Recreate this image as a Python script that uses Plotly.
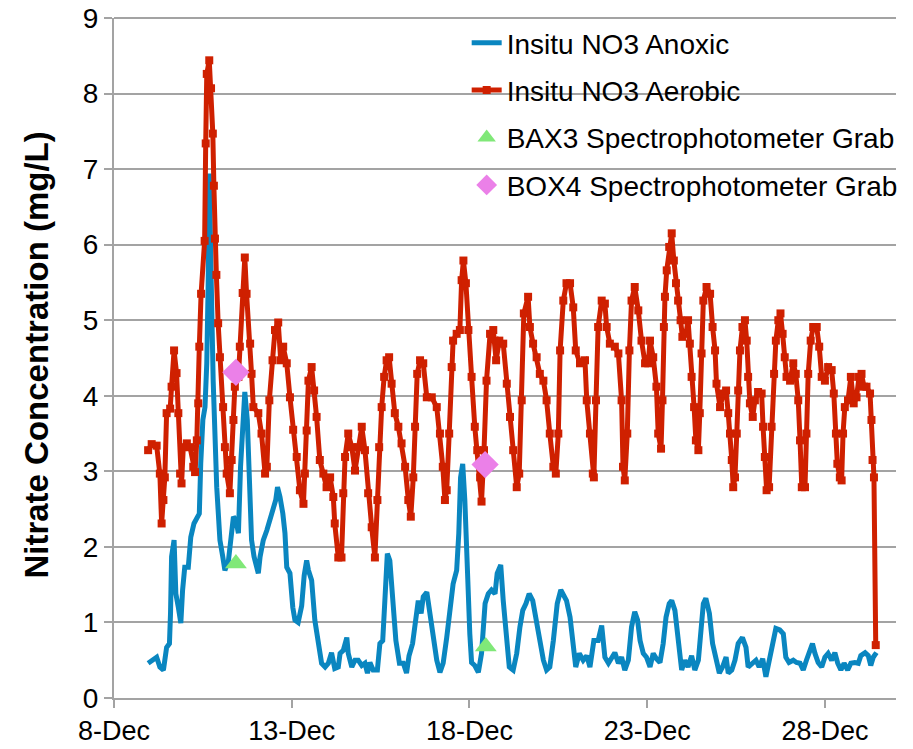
import pandas as pd
import plotly.graph_objects as go

# Days since 8-Dec (fractional) and nitrate concentrations (mg/L)
aerobic_day = [0.96, 1.06, 1.20, 1.29, 1.34, 1.39, 1.43, 1.48, 1.58, 1.62, 1.69, 1.76, 1.81, 1.86, 1.90, 1.95,
               2.05, 2.14, 2.23, 2.28, 2.33, 2.37, 2.40, 2.45, 2.55, 2.58, 2.61, 2.68, 2.73, 2.78, 2.81, 2.84,
               2.88, 2.93, 2.98, 3.07, 3.12, 3.17, 3.26, 3.31, 3.36, 3.40, 3.50, 3.54, 3.62, 3.68, 3.73, 3.83,
               3.87, 3.92, 4.06, 4.15, 4.25, 4.30, 4.37, 4.46, 4.53, 4.62, 4.69, 4.76, 4.86, 4.95, 5.04, 5.14,
               5.23, 5.33, 5.37, 5.42, 5.47, 5.56, 5.63, 5.70, 5.79, 5.89, 5.98, 6.08, 6.17, 6.21, 6.31, 6.40,
               6.45, 6.50, 6.59, 6.69, 6.78, 6.87, 6.97, 7.06, 7.15, 7.25, 7.34, 7.41, 7.46, 7.53, 7.60, 7.67,
               7.74, 7.81, 7.90, 8.00, 8.09, 8.19, 8.28, 8.35, 8.42, 8.47, 8.53, 8.61, 8.70, 8.80, 8.94, 9.08,
               9.17, 9.25, 9.31, 9.36, 9.43, 9.50, 9.54, 9.64, 9.73, 9.78, 9.83, 9.90, 9.97, 10.06, 10.15, 10.22,
               10.30, 10.34, 10.41, 10.48, 10.58, 10.67, 10.75, 10.84, 10.95, 11.05, 11.14, 11.23, 11.33, 11.40,
               11.47, 11.53, 11.65, 11.70, 11.79, 11.89, 11.98, 12.08, 12.17, 12.26, 12.36, 12.43, 12.50, 12.55,
               12.64, 12.73, 12.83, 12.92, 12.99, 13.11, 13.25, 13.30, 13.39, 13.47, 13.50, 13.56, 13.62, 13.72,
               13.81, 13.86, 13.95, 14.09, 14.19, 14.28, 14.32, 14.37, 14.44, 14.50, 14.56, 14.65, 14.75, 14.84,
               14.94, 15.03, 15.08, 15.17, 15.26, 15.31, 15.39, 15.43, 15.47, 15.50, 15.55, 15.62, 15.69, 15.75,
               15.81, 15.87, 15.94, 15.99, 16.09, 16.15, 16.20, 16.25, 16.32, 16.37, 16.44, 16.48, 16.53, 16.58,
               16.67, 16.77, 16.84, 16.91, 16.95, 17.05, 17.14, 17.22, 17.28, 17.33, 17.38, 17.42, 17.47, 17.52,
               17.56, 17.61, 17.68, 17.75, 17.80, 17.84, 17.89, 17.97, 18.03, 18.12, 18.22, 18.26, 18.31, 18.36,
               18.43, 18.50, 18.57, 18.62, 18.69, 18.75, 18.81, 18.87, 18.92, 19.02, 19.11, 19.18, 19.25, 19.30,
               19.35, 19.44, 19.48, 19.53, 19.60, 19.67, 19.77, 19.84, 19.91, 20.00, 20.09, 20.19, 20.25, 20.31,
               20.35, 20.42, 20.47, 20.51, 20.56, 20.65, 20.73, 20.81, 20.89, 20.96, 21.03, 21.10, 21.17, 21.27,
               21.31, 21.34, 21.38, 21.43]
aerobic_val = [3.28, 3.36, 3.34, 2.97, 2.31, 2.62, 2.92, 3.77, 3.83, 4.12, 4.60, 4.30, 3.77, 2.97, 2.84, 3.32,
               3.37, 3.32, 3.06, 2.99, 3.41, 3.90, 4.65, 5.35, 6.05, 7.34, 8.26, 8.44, 8.07, 7.47, 6.78, 6.08,
               5.60, 4.96, 4.51, 3.85, 3.32, 2.97, 2.71, 3.15, 3.68, 4.12, 4.25, 4.65, 5.36, 5.83, 5.35, 4.69,
               4.29, 3.85, 3.77, 3.50, 2.97, 3.06, 3.94, 4.47, 4.87, 4.97, 4.47, 4.65, 4.43, 3.98, 3.55, 3.19,
               2.75, 2.57, 2.97, 3.54, 4.20, 4.38, 4.07, 3.72, 3.15, 2.97, 2.79, 2.92, 2.66, 2.31, 1.86, 1.86,
               2.71, 3.19, 3.50, 3.32, 3.01, 3.32, 3.59, 3.28, 2.71, 2.26, 1.86, 2.62, 3.32, 3.85, 4.25, 4.47,
               4.51, 4.16, 3.77, 3.59, 3.37, 3.06, 2.62, 2.40, 2.92, 3.59, 4.29, 4.47, 4.43, 3.98, 3.98, 3.85,
               3.50, 3.06, 2.62, 2.75, 3.50, 4.38, 4.73, 4.82, 4.87, 5.53, 5.79, 5.49, 4.87, 4.25, 3.59, 3.28,
               2.92, 2.60, 3.28, 4.20, 4.82, 4.87, 4.47, 4.73, 4.69, 4.16, 3.72, 3.28, 2.79, 2.97,
               3.94, 5.09, 5.31, 4.91, 4.69, 4.51, 4.29, 4.20, 3.94, 3.50, 3.06, 2.97, 3.50, 4.60,
               5.26, 5.49, 5.49, 5.17, 4.60, 4.43, 4.47, 3.94, 3.50, 2.97, 2.92, 3.94, 4.91, 5.26,
               5.22, 4.91, 4.69, 4.65, 4.56, 3.94, 3.06, 2.88, 3.50, 4.60, 5.26, 5.44, 5.13, 4.73,
               4.43, 4.43, 4.73, 4.51, 4.12, 3.50, 3.30, 3.94, 4.91, 5.31, 5.66, 5.97, 6.15, 5.79,
               5.49, 5.26, 5.00, 4.78, 4.82, 5.00, 4.69, 4.25, 3.85, 3.41, 3.28, 3.77, 4.56, 5.26,
               5.44, 5.35, 4.91, 4.60, 4.16, 3.85, 4.03, 4.07, 3.77, 3.50, 3.15, 2.79, 2.92, 3.50,
               4.07, 4.60, 4.91, 5.00, 4.73, 4.25, 3.90, 3.72, 3.94, 4.05, 4.03, 3.59, 3.19, 2.75,
               2.79, 3.59, 4.29, 4.73, 5.00, 5.09, 4.82, 4.51, 4.25, 4.20, 4.43, 4.29, 3.94, 3.41,
               2.79, 2.79, 3.50, 4.29, 4.73, 4.91, 4.91, 4.65, 4.25, 4.20, 4.38, 4.34, 4.03, 3.50,
               3.10, 2.92, 2.88, 3.50, 3.85, 3.94, 4.25, 3.90, 3.98, 4.25, 4.29, 4.12, 4.12, 4.03,
               3.68, 3.15, 2.92, 0.70]

anoxic_day = [0.96, 1.11, 1.20, 1.29, 1.39, 1.48, 1.56, 1.59, 1.62, 1.69, 1.74, 1.81, 1.88, 1.93, 1.99, 2.09,
              2.16, 2.25, 2.33, 2.40, 2.44, 2.50, 2.56, 2.61, 2.65, 2.68, 2.74, 2.79, 2.89, 2.98, 3.06, 3.12,
              3.22, 3.28, 3.36, 3.43, 3.50, 3.56, 3.64, 3.68, 3.75, 3.81, 3.87, 3.94, 4.01, 4.06, 4.11, 4.20,
              4.30, 4.39, 4.48, 4.55, 4.60, 4.67, 4.75, 4.81, 4.86, 4.95, 5.03, 5.09, 5.18, 5.28, 5.35, 5.42,
              5.47, 5.56, 5.65, 5.75, 5.84, 5.94, 6.03, 6.12, 6.21, 6.31, 6.36, 6.45, 6.55, 6.59, 6.69, 6.78,
              6.87, 6.97, 7.06, 7.13, 7.20, 7.29, 7.41, 7.48, 7.56, 7.62, 7.69, 7.76, 7.84, 7.93, 8.03, 8.14,
              8.23, 8.30, 8.40, 8.47, 8.56, 8.64, 8.70, 8.80, 8.89, 8.98, 9.08, 9.17, 9.26, 9.36, 9.45, 9.54,
              9.64, 9.70, 9.75, 9.81, 9.87, 9.94, 10.01, 10.06, 10.15, 10.25, 10.34, 10.44, 10.53, 10.62, 10.72,
              10.78, 10.88, 10.95, 11.03, 11.12, 11.23, 11.33, 11.42, 11.50, 11.59, 11.68, 11.78, 11.87, 11.98,
              12.08, 12.17, 12.26, 12.36, 12.47, 12.57, 12.64, 12.73, 12.83, 12.92, 12.99, 13.09, 13.20, 13.30,
              13.39, 13.50, 13.62, 13.72, 13.81, 13.91, 14.00, 14.09, 14.19, 14.28, 14.37, 14.47, 14.56, 14.65,
              14.73, 14.80, 14.89, 14.98, 15.08, 15.17, 15.26, 15.36, 15.45, 15.53, 15.62, 15.69, 15.78, 15.87,
              15.97, 16.06, 16.15, 16.25, 16.34, 16.44, 16.50, 16.58, 16.65, 16.75, 16.84, 16.93, 17.03, 17.12,
              17.22, 17.28, 17.38, 17.47, 17.56, 17.68, 17.78, 17.84, 17.94, 18.06, 18.15, 18.25, 18.34, 18.43,
              18.53, 18.62, 18.73, 18.83, 18.90, 18.99, 19.11, 19.20, 19.30, 19.39, 19.48, 19.56, 19.65, 19.72,
              19.81, 19.91, 20.00, 20.09, 20.19, 20.28, 20.36, 20.45, 20.54, 20.64, 20.73, 20.84, 20.94, 21.01,
              21.13, 21.22, 21.29, 21.36, 21.45]
anoxic_val = [0.46, 0.50, 0.54, 0.41, 0.37, 0.67, 0.72, 1.12, 1.87, 2.09, 1.38, 1.20, 0.99, 1.43, 1.73, 1.73,
              2.13, 2.31, 2.40, 2.44, 3.10, 3.68, 3.85, 4.43, 5.50, 6.94, 5.40, 4.20, 2.79, 2.09, 1.87, 1.69,
              1.82, 2.04, 2.40, 2.35, 2.18, 3.06, 3.94, 4.05, 3.68, 2.88, 2.09, 1.87, 1.69, 1.65, 1.87, 2.09,
              2.22, 2.35, 2.48, 2.62, 2.79, 2.66, 2.44, 2.18, 1.73, 1.65, 1.20, 1.03, 1.00, 1.22, 1.62, 1.82,
              1.69, 1.56, 1.03, 0.67, 0.46, 0.41, 0.46, 0.60, 0.39, 0.41, 0.59, 0.63, 0.80, 0.59, 0.41, 0.50,
              0.50, 0.43, 0.46, 0.33, 0.47, 0.37, 0.37, 0.72, 0.76, 1.29, 1.91, 1.82, 1.29, 0.76, 0.46, 0.46,
              0.33, 0.56, 0.72, 1.03, 1.29, 1.12, 1.34, 1.40, 1.07, 0.85, 0.50, 0.34, 0.46, 0.80, 1.16, 1.51,
              1.69, 2.18, 2.92, 3.10, 2.62, 1.51, 0.85, 0.47, 0.43, 0.34, 0.59, 1.25, 1.38, 1.43, 1.38,
              1.65, 1.76, 1.29, 0.85, 0.41, 0.37, 0.59, 0.94, 1.16, 1.25, 1.38, 1.29, 1.07, 0.76,
              0.50, 0.37, 0.41, 0.76, 1.25, 1.43, 1.38, 1.29, 1.07, 0.72, 0.41, 0.59, 0.50, 0.56,
              0.41, 0.76, 0.76, 0.96, 0.54, 0.46, 0.54, 0.60, 0.46, 0.54, 0.37, 0.50, 0.94, 1.14,
              1.03, 0.76, 0.59, 0.54, 0.41, 0.59, 0.52, 0.47, 0.72, 1.07, 1.25, 1.29, 1.16, 0.72,
              0.37, 0.50, 0.41, 0.56, 0.37, 0.50, 0.85, 1.25, 1.32, 1.12, 0.72, 0.54, 0.33, 0.41,
              0.54, 0.33, 0.37, 0.50, 0.72, 0.80, 0.67, 0.41, 0.46, 0.50, 0.41, 0.52, 0.28, 0.50,
              0.76, 0.92, 0.90, 0.85, 0.54, 0.47, 0.50, 0.47, 0.46, 0.37, 0.50, 0.59, 0.72, 0.59,
              0.47, 0.41, 0.54, 0.59, 0.50, 0.60, 0.46, 0.37, 0.46, 0.37, 0.46, 0.47, 0.46, 0.56,
              0.60, 0.56, 0.43, 0.54, 0.60]

bax3_day = [3.43, 10.46]
bax3_val = [1.78, 0.68]
box4_day = [3.43, 10.44]
box4_val = [4.31, 3.09]

start = pd.Timestamp("2012-12-08")
end = pd.Timestamp("2012-12-30")


def to_dates(days):
    return start + pd.to_timedelta(days, unit="D")


BLUE = "#0A86C0"
RED = "#CF2000"
GREEN = "#80E878"
VIOLET = "#EB80E8"
GRID = "#A3A3A3"
FONT = "Liberation Sans, Arial, sans-serif"

fig = go.Figure()
fig.add_trace(go.Scatter(
    x=to_dates(anoxic_day), y=anoxic_val, mode="lines", name="Insitu NO3 Anoxic",
    line=dict(color=BLUE, width=5), legendgroup="a"))
fig.add_trace(go.Scatter(
    x=to_dates(aerobic_day), y=aerobic_val, mode="lines+markers", name="Insitu NO3 Aerobic",
    line=dict(color=RED, width=5), marker=dict(symbol="square", size=8, color=RED),
    legendgroup="b"))
fig.add_trace(go.Scatter(
    x=to_dates(bax3_day), y=bax3_val, mode="markers", name="BAX3 Spectrophotometer Grab",
    marker=dict(symbol="triangle-up", size=19, color=GREEN), legendgroup="c"))
fig.add_trace(go.Scatter(
    x=to_dates(box4_day), y=box4_val, mode="markers", name="BOX4 Spectrophotometer Grab",
    marker=dict(symbol="diamond", size=21, color=VIOLET), legendgroup="d"))

# white legend background (hides gridlines behind the legend, below the data)
fig.add_shape(type="rect", xref="paper", yref="paper", x0=0.41, x1=1.0, y0=0.715, y1=0.995,
              fillcolor="white", line=dict(width=0), layer="between")
# top gridline at the upper edge of the plot area
fig.add_shape(type="line", xref="paper", yref="paper", x0=0, x1=1, y0=1, y1=1,
              line=dict(color=GRID, width=2), layer="between")

fig.add_annotation(text="<b>Nitrate Concentration (mg/L)</b>", textangle=-90,
                   xref="paper", yref="paper", x=-0.0985, y=0.505,
                   xanchor="center", yanchor="middle", showarrow=False,
                   font=dict(size=33, family=FONT, color="#000000"))

fig.update_layout(
    width=913, height=749,
    margin=dict(l=114, r=17, t=18, b=51, autoexpand=False),
    paper_bgcolor="white", plot_bgcolor="white",
    font=dict(family=FONT, color="#000000"),
    showlegend=True,
    legend=dict(x=0.451, y=1.0, xanchor="left", yanchor="top",
                bgcolor="rgba(0,0,0,0)", font=dict(size=28, family=FONT),
                tracegroupgap=8, itemwidth=30),
    xaxis=dict(
        type="date", range=[start, end], automargin=False,
        tick0=start, dtick=5 * 24 * 3600 * 1000, tickformat="%-d-%b",
        showgrid=False, showline=True, linecolor=GRID, linewidth=2,
        ticks="outside", ticklen=8, tickwidth=2, tickcolor=GRID,
        tickfont=dict(size=27, family=FONT), zeroline=False,
    ),
    yaxis=dict(
        range=[0, 9], tick0=0, dtick=1, automargin=False,
        showgrid=True, gridcolor=GRID, gridwidth=2,
        showline=True, linecolor=GRID, linewidth=2,
        ticks="outside", ticklen=8, tickwidth=2, tickcolor=GRID,
        tickfont=dict(size=28, family=FONT), zeroline=False,
    ),
)

fig.write_html("out.html", config={"displayModeBar": False},
               post_script="document.body.style.margin='0';")
